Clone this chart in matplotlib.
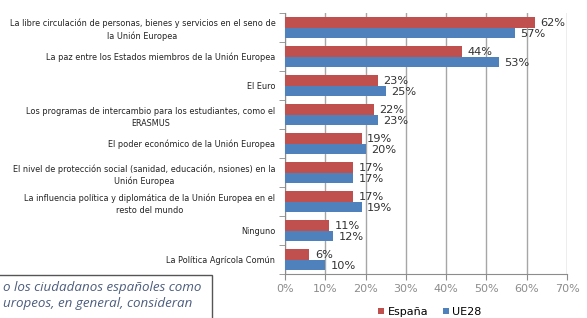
import matplotlib
matplotlib.use('Agg')
import matplotlib.pyplot as plt
from matplotlib.patches import Rectangle
import numpy as np

# Datos
categorias = [
    'La libre circulación de personas, bienes y servicios en el seno de\nla Unión Europea',
    'La paz entre los Estados miembros de la Unión Europea',
    'El Euro',
    'Los programas de intercambio para los estudiantes, como el\nERASMUS',
    'El poder económico de la Unión Europea',
    'El nivel de protección social (sanidad, educación, nsiones) en la\nUnión Europea',
    'La influencia política y diplomática de la Unión Europea en el\nresto del mundo',
    'Ninguno',
    'La Política Agrícola Común',
]
espana = [62, 44, 23, 22, 19, 17, 17, 11, 6]
ue28 = [57, 53, 25, 23, 20, 17, 19, 12, 10]
xticks = [0, 10, 20, 30, 40, 50, 60, 70]
xtick_labels = ['0%', '10%', '20%', '30%', '40%', '50%', '60%', '70%']
texto_caja = ['o los ciudadanos españoles como', 'uropeos, en general, consideran']

ROJO = '#c0504d'
AZUL = '#4f81bd'

fig = plt.figure(figsize=(5.87, 3.18), dpi=100)
ax = fig.add_axes([285 / 587, 1 - 274 / 318, 282 / 587, 261 / 318])

y = np.arange(len(categorias))
h = 0.36
ax.barh(y - h / 2, espana, height=h, color=ROJO, label='España', zorder=3)
ax.barh(y + h / 2, ue28, height=h, color=AZUL, label='UE28', zorder=3)

# etiquetas de valores
for i in range(len(categorias)):
    ax.text(espana[i] + 1.4, y[i] - h / 2 + 0.03, f'{espana[i]}%', va='center', ha='left',
            fontsize=8.2, color='#333333', zorder=4)
    ax.text(ue28[i] + 1.4, y[i] + h / 2 + 0.03, f'{ue28[i]}%', va='center', ha='left',
            fontsize=8.2, color='#333333', zorder=4)

ax.set_xlim(0, 70)
ax.set_ylim(len(categorias) - 0.5, -0.5)

ax.set_xticks(xticks)
ax.set_xticklabels(xtick_labels, fontsize=8, color='#8c8c8c')
ax.set_yticks(y)
ax.set_yticklabels(categorias, fontsize=5.85, color='#222222', linespacing=1.45)
for t in ax.get_yticklabels():
    t.set_multialignment('center')
ax.set_yticks(np.arange(len(categorias) + 1) - 0.5, minor=True)
ax.tick_params(axis='y', which='major', length=0, pad=7)
ax.tick_params(axis='y', which='minor', length=4, color='#8c8c8c', direction='out')
ax.tick_params(axis='x', length=4, color='#8c8c8c', pad=3)

ax.grid(axis='x', color='#a6a6a6', linewidth=1, zorder=0)
for s in ['top', 'right']:
    ax.spines[s].set_visible(False)
for s in ['left', 'bottom']:
    ax.spines[s].set_color('#8c8c8c')

fig.legend(loc='center', bbox_to_anchor=(430 / 587, 1 - 312 / 318), ncol=2, frameon=False,
           fontsize=8, handlelength=0.55, handleheight=0.55, handletextpad=0.3,
           columnspacing=1.3)

# caja de texto recortada (abajo a la izquierda)
fig.patches.append(Rectangle((-0.05, 1 - 340 / 318), 241 / 587, 65 / 318,
                             transform=fig.transFigure, fill=False,
                             edgecolor='#555555', linewidth=1))
fig.text(3 / 587, 1 - 288 / 318, texto_caja[0], fontsize=9.6, style='italic',
         family='Open Sans', color='#4d5d7d', va='center', ha='left')
fig.text(3 / 587, 1 - 303 / 318, texto_caja[1], fontsize=9.6, style='italic',
         family='Open Sans', color='#4d5d7d', va='center', ha='left')

fig.savefig('out.png', dpi=100)
